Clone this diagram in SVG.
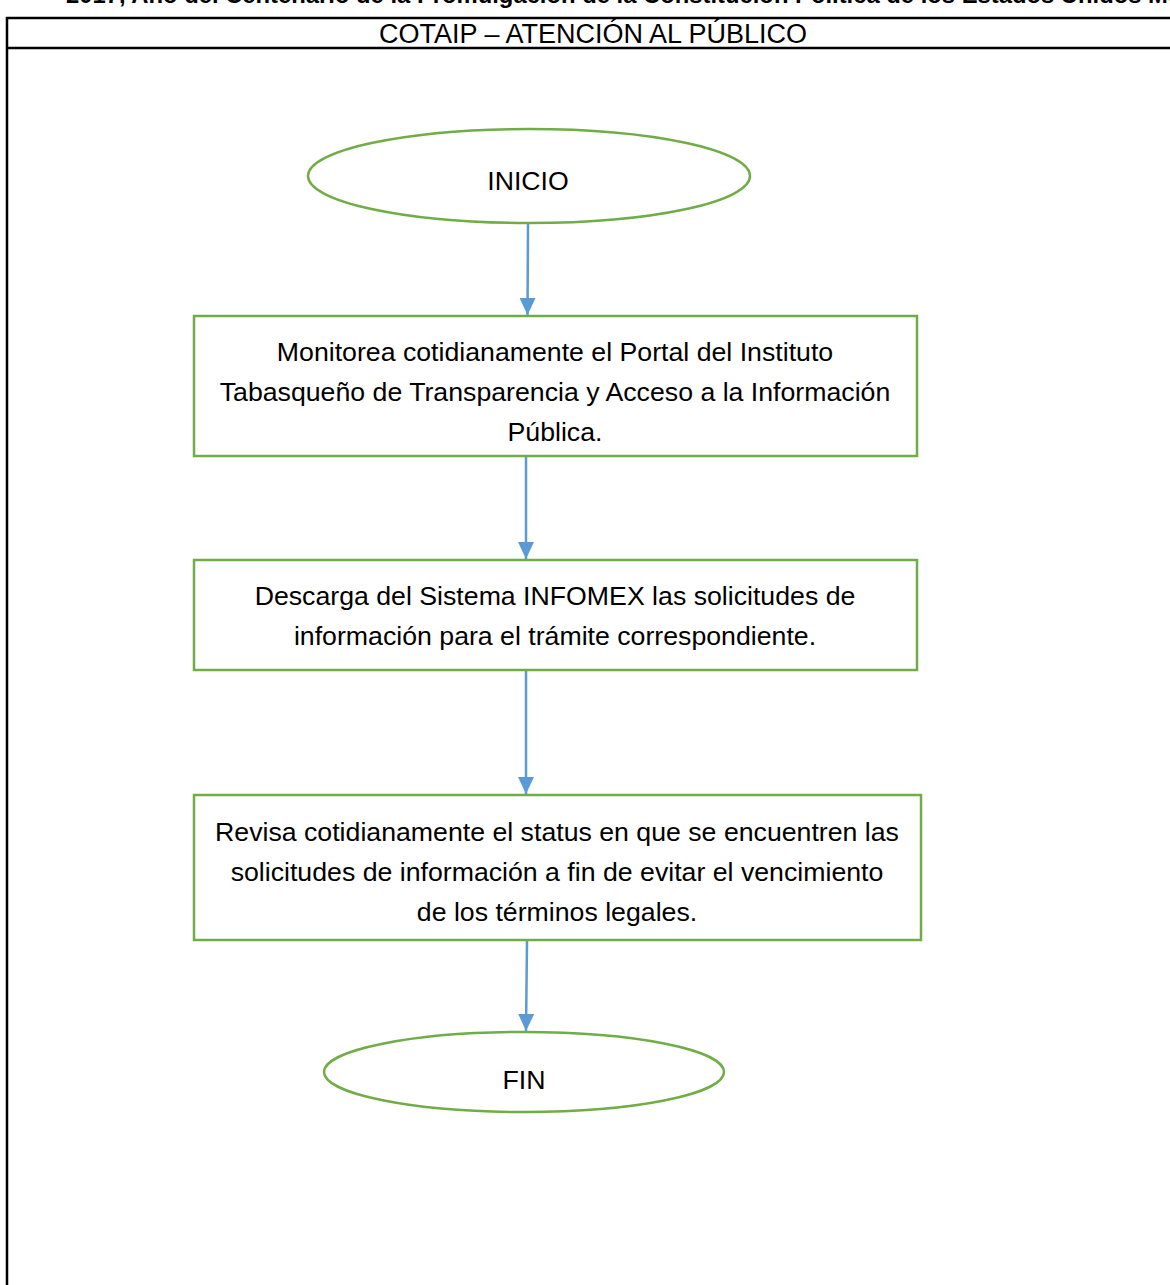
<svg xmlns="http://www.w3.org/2000/svg" width="1170" height="1285" viewBox="0 0 1170 1285">
<defs>
<style>
.node{fill:#fff;stroke:#70AD47;stroke-width:2.5}
.conn{stroke:#5B9BD5;stroke-width:2.5;fill:none}
.t{font-family:"Liberation Sans",Arial,sans-serif;font-size:26.7px;fill:#000;text-anchor:middle}
.hdr{font-family:"Liberation Sans",Arial,sans-serif;font-size:23.8px;font-weight:bold;fill:#000}
.frame{stroke:#000;stroke-width:2.5;fill:none}
</style>
<marker id="ah2" markerWidth="17" markerHeight="16" refX="17" refY="8" orient="auto" markerUnits="userSpaceOnUse" viewBox="0 0 17 16">
<path d="M0,0 L17,8 L0,16 Z" fill="#5B9BD5"/>
</marker>
</defs>
<rect width="1170" height="1285" fill="#fff"/>
<g id="header">
<text class="hdr" x="66" y="3">2017, Año del Centenario de la Promulgación de la Constitución Política de los Estados Unidos Mexicanos</text>
<line class="frame" x1="6" y1="18" x2="1170" y2="18"/>
<line class="frame" x1="6" y1="48" x2="1170" y2="48"/>
<line class="frame" x1="7" y1="17" x2="7" y2="1285"/>
<text class="t" x="593" y="43" style="font-size:27px">COTAIP – ATENCIÓN AL PÚBLICO</text>
</g>
<g id="connectors">
<line class="conn" x1="528" y1="223" x2="527.5" y2="315" marker-end="url(#ah2)"/>
<line class="conn" x1="526" y1="457" x2="526" y2="559" marker-end="url(#ah2)"/>
<line class="conn" x1="526" y1="671" x2="526" y2="794" marker-end="url(#ah2)"/>
<line class="conn" x1="527" y1="941" x2="526" y2="1031" marker-end="url(#ah2)"/>
</g>
<g id="inicio">
<ellipse class="node" cx="529" cy="176" rx="221" ry="47"/>
<text class="t" x="528" y="190">INICIO</text>
</g>
<g id="monitorea">
<rect class="node" x="194" y="316" width="723" height="140"/>
<text class="t" x="555" y="361">Monitorea cotidianamente el Portal del Instituto</text>
<text class="t" x="555" y="401">Tabasqueño de Transparencia y Acceso a la Información</text>
<text class="t" x="555" y="441">Pública.</text>
</g>
<g id="descarga">
<rect class="node" x="194" y="560" width="723" height="110"/>
<text class="t" x="555" y="605">Descarga del Sistema INFOMEX las solicitudes de</text>
<text class="t" x="555" y="645">información para el trámite correspondiente.</text>
</g>
<g id="revisa">
<rect class="node" x="194" y="795" width="727" height="145"/>
<text class="t" x="557" y="841">Revisa cotidianamente el status en que se encuentren las</text>
<text class="t" x="557" y="881">solicitudes de información a fin de evitar el vencimiento</text>
<text class="t" x="557" y="921">de los términos legales.</text>
</g>
<g id="fin">
<ellipse class="node" cx="524" cy="1072" rx="200" ry="40"/>
<text class="t" x="524" y="1089">FIN</text>
</g>
</svg>
